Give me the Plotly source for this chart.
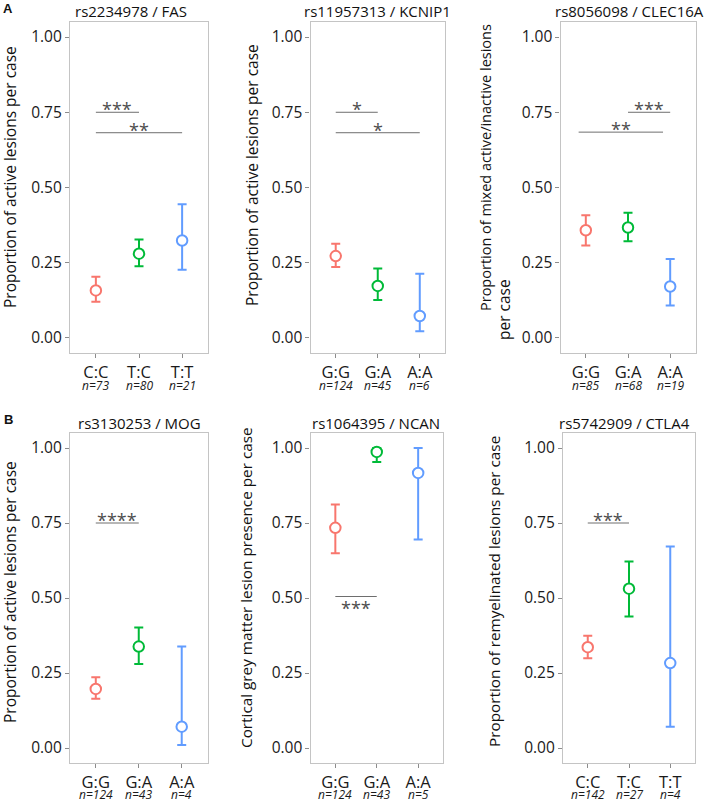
import plotly.graph_objects as go

# ---------------- data ----------------
titles = ["rs2234978 / FAS", "rs11957313 / KCNIP1", "rs8056098 / CLEC16A",
          "rs3130253 / MOG", "rs1064395 / NCAN", "rs5742909 / CTLA4"]
genotypes = [["C:C", "T:C", "T:T"], ["G:G", "G:A", "A:A"], ["G:G", "G:A", "A:A"],
             ["G:G", "G:A", "A:A"], ["G:G", "G:A", "A:A"], ["C:C", "T:C", "T:T"]]
n_cases = [[73, 80, 21], [124, 45, 6], [85, 68, 19],
           [124, 43, 4], [124, 43, 5], [142, 27, 4]]
means = [[0.158, 0.280, 0.324], [0.272, 0.173, 0.073], [0.358, 0.367, 0.171],
         [0.197, 0.338, 0.071], [0.734, 0.987, 0.917], [0.336, 0.531, 0.283]]
lower = [[0.120, 0.238, 0.227], [0.236, 0.126, 0.022], [0.307, 0.321, 0.108],
         [0.164, 0.280, 0.010], [0.649, 0.953, 0.695], [0.299, 0.438, 0.071]]
upper = [[0.203, 0.327, 0.444], [0.313, 0.231, 0.213], [0.408, 0.416, 0.262],
         [0.236, 0.402, 0.338], [0.812, 1.000, 1.000], [0.374, 0.622, 0.672]]
y_titles = [["Proportion of active lesions per case"],
            ["Proportion of active lesions per case"],
            ["Proportion of mixed active/inactive lesions", "per case"],
            ["Proportion of active lesions per case"],
            ["Cortical grey matter lesion presence per case"],
            ["Proportion of remyelinated lesions per case"]]
# significance brackets per panel: start group, end group, height, label
sig_start = [[1, 1], [1, 1], [2, 0.83], [1], [1], [1]]
sig_end = [[2, 3], [2, 3], [3, 2.83], [2], [2], [2]]
sig_y = [[0.75, 0.682], [0.75, 0.682], [0.75, 0.684], [0.75], [0.505], [0.75]]
sig_label = [["***", "**"], ["*", "*"], ["***", "**"], ["****"], ["***"], ["***"]]
sig_below = [[False, False], [False, False], [False, False], [False], [True], [False]]
panel_letters = ["A", "B"]
y_ticks = [0, 0.25, 0.5, 0.75, 1.0]

# ---------------- layout (pixels) ----------------
W, H = 709, 802
colors = ["#F8766D", "#00BA38", "#619CFF"]
frames_x = [(70, 208), (310.5, 445), (560.5, 695.5),
            (70, 207.5), (310.5, 443), (563, 695)]
rows_y = [(22, 353), (433, 763)]
title_pos = [(131, 11), (378, 11), (629, 11), (139, 423), (376, 423), (624, 423)]
ytitle_pos = [[(10, 177)], [(252, 175)], [(485, 168), (504, 310)],
              [(10, 592)], [(246, 588)], [(494, 592)]]
ytitle_size = [[15.5], [15.5], [14.5, 15.5], [15.5], [15.3], [15.3]]
xtick_n_y = [385, 794.5]
letter_pos = [(8, 8), (8, 419)]


def px(x):
    return x / W


def py(y):
    return 1 - y / H


FONT = "Open Sans"
fig = go.Figure()
annotations = []
shapes = []

for i in range(6):
    k = "" if i == 0 else str(i + 1)
    row = i // 3
    x0, x1 = frames_x[i]
    y0, y1 = rows_y[row]
    for j in range(3):
        m = means[i][j]
        fig.add_trace(go.Scatter(
            x=[j + 1], y=[m], xaxis="x" + k, yaxis="y" + k, mode="markers",
            marker=dict(symbol="circle", size=10.5, color="white",
                        line=dict(color=colors[j], width=2)),
            error_y=dict(type="data", symmetric=False,
                         array=[upper[i][j] - m], arrayminus=[m - lower[i][j]],
                         color=colors[j], thickness=2, width=4.5),
            showlegend=False, hoverinfo="skip"))
    fig.update_layout(**{
        "xaxis" + k: dict(domain=[px(x0), px(x1)], anchor="y" + k,
                          range=[0.4, 3.6], tickvals=[1, 2, 3], ticktext=genotypes[i],
                          ticks="outside", ticklen=4, tickcolor="#8c8c8c",
                          showline=True, mirror=True, linecolor="#c4c4c4", linewidth=1.2,
                          showgrid=False, zeroline=False, fixedrange=True,
                          tickfont=dict(family=FONT, size=16.5, color="#1a1a1a")),
        "yaxis" + k: dict(domain=[py(y1), py(y0)], anchor="x" + k,
                          range=[-0.05, 1.05], tickvals=y_ticks, tickformat=".2f",
                          ticks="outside", ticklen=4, tickcolor="#8c8c8c",
                          showline=True, mirror=True, linecolor="#c4c4c4", linewidth=1.2,
                          showgrid=False, zeroline=False, fixedrange=True,
                          tickfont=dict(family=FONT, size=15.5, color="#1a1a1a")),
    })
    # title
    tx, ty = title_pos[i]
    annotations.append(dict(text=titles[i], x=px(tx), y=py(ty), xref="paper", yref="paper",
                            xanchor="center", yanchor="middle", showarrow=False,
                            font=dict(family=FONT, size=15, color="#111")))
    # y titles
    for line, (ax_, ay_), fs in zip(y_titles[i], ytitle_pos[i], ytitle_size[i]):
        annotations.append(dict(text=line, x=px(ax_), y=py(ay_), xref="paper", yref="paper",
                                xanchor="center", yanchor="middle", textangle=-90,
                                showarrow=False,
                                font=dict(family=FONT, size=fs, color="#111")))
    # n labels
    for j in range(3):
        annotations.append(dict(text="<i>n=%d</i>" % n_cases[i][j], x=j + 1, xref="x" + k,
                                y=py(xtick_n_y[row]), yref="paper",
                                xanchor="center", yanchor="middle", showarrow=False,
                                font=dict(family=FONT, size=12, color="#1a1a1a")))
    # significance brackets
    for s0, s1, sy, lab, below in zip(sig_start[i], sig_end[i], sig_y[i], sig_label[i], sig_below[i]):
        shapes.append(dict(type="line", xref="x" + k, yref="y" + k,
                           x0=s0, x1=s1, y0=sy, y1=sy,
                           line=dict(color="#6e6e6e", width=1)))
        annotations.append(dict(text=lab, x=(s0 + s1) / 2, y=sy, xref="x" + k, yref="y" + k,
                                xanchor="center", yanchor="middle",
                                yshift=-11 if below else 3, showarrow=False,
                                font=dict(family=FONT, size=18, color="#4d4d4d")))

for lab, (lx, ly) in zip(panel_letters, letter_pos):
    annotations.append(dict(text="<b>%s</b>" % lab, x=px(lx), y=py(ly), xref="paper", yref="paper",
                            xanchor="center", yanchor="middle", showarrow=False,
                            font=dict(family="Liberation Sans", size=13, color="#111")))

fig.update_layout(width=W, height=H, margin=dict(l=0, r=0, t=0, b=0),
                  paper_bgcolor="white", plot_bgcolor="white",
                  annotations=annotations, shapes=shapes,
                  font=dict(family=FONT))
fig.write_html("out.html", config={"displayModeBar": False},
               post_script="document.body.style.margin='0px';"
                           "document.body.style.overflow='hidden';")
